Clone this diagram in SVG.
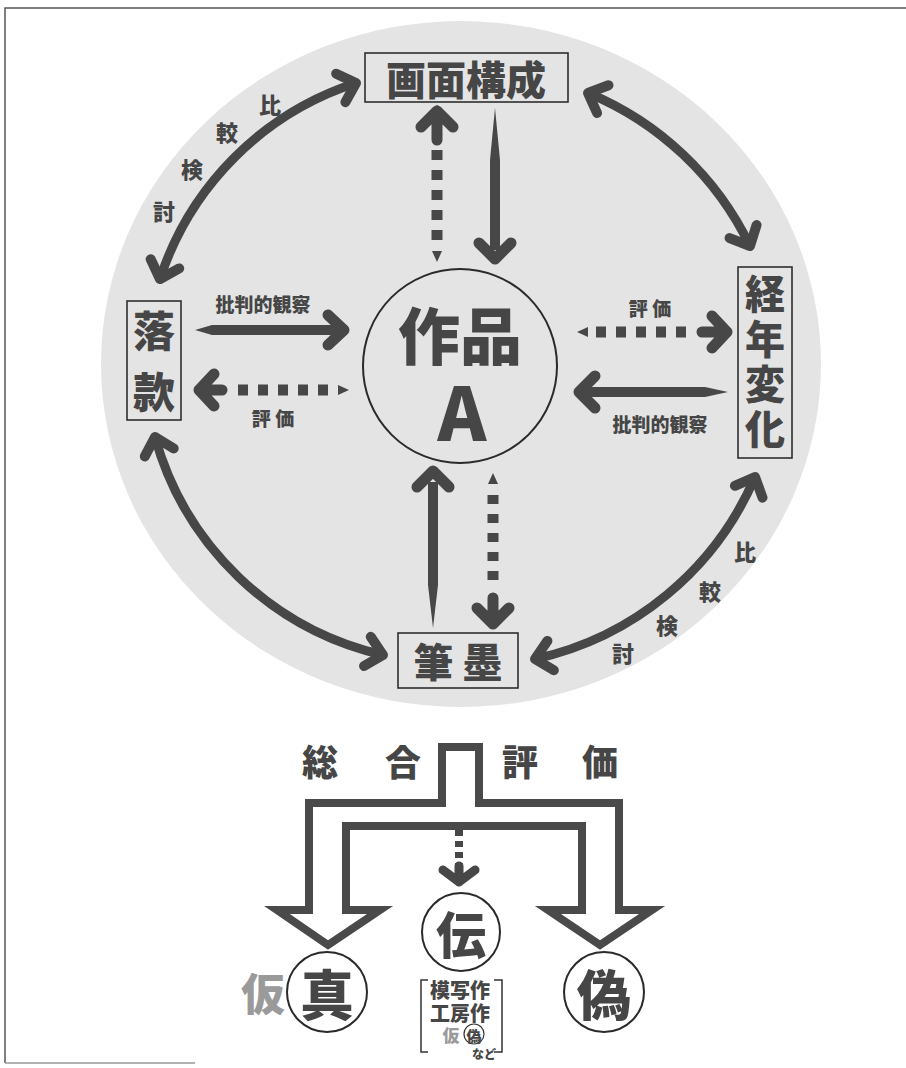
<svg xmlns="http://www.w3.org/2000/svg" width="906" height="1068" viewBox="0 0 906 1068">
<defs>
<style>
.t{font-family:'Noto Sans CJK JP','Noto Sans CJK SC',sans-serif;font-weight:900;fill:#464646;text-anchor:middle;dominant-baseline:central}
.v{writing-mode:vertical-rl;text-orientation:upright}
.box{fill:none;stroke:#2e2e2e;stroke-width:1.6}
.hd{fill:none;stroke:#474747;stroke-width:11;stroke-linecap:round;stroke-linejoin:round}
.sh{fill:#474747}
.dt{fill:none;stroke:#474747;stroke-width:11}
.arc{fill:none;stroke:#474747;stroke-width:9;marker-start:url(#ah);marker-end:url(#ah)}
.ring{fill:#fff;stroke:#2a2a2a;stroke-width:2}
</style>
<marker id="ah" markerUnits="userSpaceOnUse" orient="auto-start-reverse" viewBox="-30 -30 60 60" markerWidth="60" markerHeight="60" refX="0" refY="0">
<path d="M-16,-15 L0,0 L-16,15" fill="none" stroke="#474747" stroke-width="10" stroke-linecap="round" stroke-linejoin="round"/>
</marker>
</defs>
<rect width="906" height="1068" fill="#fff"/>
<g id="frame" fill="none" stroke="#555" stroke-width="1.5">
<path d="M5,1063 L5,8 L906,8"/>
<path d="M5,1063 L195,1063" stroke="#999"/>
</g>
<ellipse id="bg" cx="461" cy="364" rx="360" ry="343" fill="#e4e4e4"/>

<g id="connectors">
<path class="arc" d="M160,279 A305,305 0 0,1 356,83"/>
<path class="arc" d="M588,93 A312,312 0 0,1 750,246"/>
<path class="arc" d="M755,477 A312,312 0 0,1 535,659"/>
<path class="arc" d="M383,655 A308,308 0 0,1 155,437"/>
<polygon class="sh" points="195,330 212,325 340,325 340,335 212,335"/>
<path class="hd" d="M328,315 L344,330 L328,345"/>
<path class="dt" d="M328,390 L236,390" stroke-dasharray="10 10"/>
<polygon class="sh" points="349,390 338,385 338,395"/>
<path class="hd" d="M214,374 L199,390 L214,406 M199,390 L222,390"/>
<path class="dt" d="M596,332 L688,332" stroke-dasharray="10 10"/>
<polygon class="sh" points="577,332 588,327 588,337"/>
<path class="hd" d="M712,316 L727,332 L712,348 M702,332 L727,332"/>
<polygon class="sh" points="728,392 705,387 585,387 585,397 705,397"/>
<path class="hd" d="M595,376 L579,392 L595,408"/>
<path class="dt" d="M437,150 L437,242" stroke-dasharray="10 10"/>
<polygon class="sh" points="437,262 432,251 442,251"/>
<path class="hd" d="M421,127 L437,111 L453,127 M437,111 L437,140"/>
<polygon class="sh" points="495,108 500,160 500,250 490,250 490,160"/>
<path class="hd" d="M479,243 L495,259 L511,243"/>
<polygon class="sh" points="433,628 428,585 428,482 438,482 438,585"/>
<path class="hd" d="M417,487 L433,471 L449,487"/>
<path class="dt" d="M493,495 L493,582" stroke-dasharray="9 10"/>
<polygon class="sh" points="493,473 488,484 498,484"/>
<path class="hd" d="M477,608 L493,624 L509,608 M493,598 L493,624"/>
<polygon fill="none" stroke="#4a4a4a" stroke-width="8" stroke-linejoin="miter" points="309,910 309,803 442,803 442,747 479,747 479,803 619,803 619,910 652,910 600,945 548,910 582,910 582,826 346,826 346,910 380,910 328,945 277,910"/>
<path d="M459,830 L459,868" fill="none" stroke="#474747" stroke-width="8" stroke-dasharray="6 5"/>
<path class="hd" style="stroke-width:9" d="M443,870 L459,882 L475,870 M459,866 L459,882"/>
</g>

<g id="labels">
<g class="t" font-size="22">
<text x="270" y="103">比</text><text x="227" y="131">較</text><text x="192" y="168">検</text><text x="164" y="210">討</text>
<text x="745" y="550">比</text><text x="710" y="590">較</text><text x="667" y="624">検</text><text x="623" y="652">討</text>
</g>
<g class="t" font-size="19">
<text x="263" y="303">批判的観察</text>
<text x="660" y="423">批判的観察</text>
<text x="273" y="417">評 価</text>
<text x="650" y="307">評 価</text>
</g>
</g>

<g id="node-gamen">
<rect class="box" x="365" y="53" width="203" height="49"/>
<text class="t" x="466" y="78" font-size="40">画面構成</text>
</g>
<g id="node-rakkan">
<rect class="box" x="127" y="301" width="54" height="119"/>
<text class="t v" x="154" y="371" font-size="42" letter-spacing="19">落款</text>
</g>
<g id="node-keinen">
<rect class="box" x="738" y="267" width="54" height="191"/>
<text class="t v" x="765" y="364" font-size="40" letter-spacing="5">経年変化</text>
</g>
<g id="node-hitsuboku">
<rect class="box" x="398" y="633" width="120" height="55"/>
<text class="t" x="458" y="660" font-size="40">筆 墨</text>
</g>
<g id="node-sakuhin">
<circle cx="460" cy="366" r="97" fill="none" stroke="#2a2a2a" stroke-width="2"/>
<text class="t"><tspan x="460" y="333" font-size="62">作品</tspan><tspan x="462" y="408" font-size="74">A</tspan></text>
</g>

<g id="title">
<g class="t" font-size="36">
<text x="320" y="760">総</text><text x="403" y="760">合</text><text x="520" y="760">評</text><text x="600" y="760">価</text>
</g>
</g>

<g id="node-den">
<circle class="ring" cx="461" cy="932" r="39"/>
<text class="t" x="461" y="932" font-size="50">伝</text>
</g>
<g id="node-shin">
<text class="t" x="263" y="992" font-size="44" style="fill:#9a9a9a">仮</text>
<circle class="ring" cx="327" cy="992" r="40"/>
<text class="t" x="327" y="992" font-size="54">真</text>
</g>
<g id="node-gi">
<circle class="ring" cx="604" cy="992" r="40"/>
<text class="t" x="604" y="992" font-size="54">偽</text>
</g>
<g id="note">
<path d="M428,980 L421,980 L421,1052 L428,1052 M494,980 L502,980 L502,1052 L494,1052" fill="none" stroke="#333" stroke-width="1.5"/>
<text class="t" font-size="20"><tspan x="460" y="989">模写作</tspan><tspan x="460" y="1012">工房作</tspan><tspan x="451" y="1034" font-size="17" fill="#9a9a9a">仮</tspan></text>
<circle cx="474" cy="1034" r="10" fill="#fff" stroke="#333" stroke-width="1.2"/>
<text class="t" x="474" y="1035" font-size="15">偽</text>
<text class="t" x="484" y="1053" font-size="12">など</text>
</g>
</svg>
